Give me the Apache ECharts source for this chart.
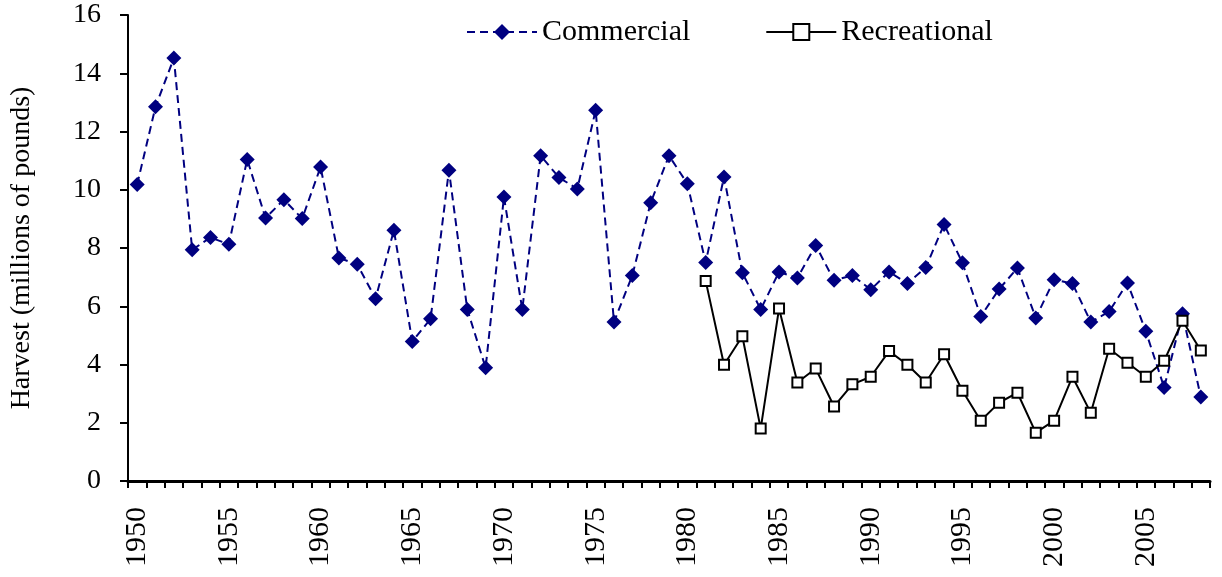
<!DOCTYPE html>
<html>
<head>
<meta charset="utf-8">
<script src="https://cdn.jsdelivr.net/npm/echarts@6/dist/echarts.min.js"></script>
<style>
html, body { margin: 0; padding: 0; background: #fff; }
#chart { width: 1222px; height: 577px; }
</style>
</head>
<body>
<div id="chart"></div>
<script>
// years on the x axis
const years = []
for (let y = 1950; y <= 2008; y++) years.push(String(y))

// commercial harvest, 1950-2008 (millions of pounds)
const commercial = [
    10.18, 12.85, 14.52, 7.94, 8.36, 8.13, 11.04, 9.03, 9.66, 9.01,
    10.78, 7.66, 7.44, 6.26, 8.61, 4.79, 5.57, 10.67, 5.89, 3.89,
    9.75, 5.89, 11.17, 10.42, 10.03, 12.73, 5.46, 7.06, 9.55, 11.17,
    10.21, 7.50, 10.44, 7.15, 5.89, 7.18, 6.97, 8.09, 6.89, 7.06,
    6.57, 7.18, 6.78, 7.33, 8.81, 7.49, 5.65, 6.59, 7.31, 5.60,
    6.91, 6.78, 5.46, 5.82, 6.80, 5.14, 3.21, 5.74, 2.88
]

// recreational harvest starts in 1981
const recreationalStart = 1981
const recreational = [
    6.87, 3.99, 4.97, 1.80, 5.92, 3.38, 3.86, 2.56, 3.32, 3.58,
    4.46, 3.99, 3.38, 4.35, 3.10, 2.07, 2.69, 3.03, 1.66, 2.07,
    3.58, 2.34, 4.54, 4.06, 3.58, 4.13, 5.50, 4.48
]

const yTicks = [0, 2, 4, 6, 8, 10, 12, 14, 16]

const FONT = '"Liberation Serif", "DejaVu Serif", serif'

const recreationalFull = years.map(y => {
    const i = Number(y) - recreationalStart
    return i >= 0 ? recreational[i] : null
})

const chart = echarts.init(document.getElementById('chart'))

const option = {
    animation: false,
    backgroundColor: '#fff',
    grid: {
        left: 127,
        right: 12,
        top: 15,
        bottom: 96
    },
    legend: {
        left: 461,
        top: 12,
        itemWidth: 70,
        itemHeight: 20,
        itemGap: 75,
        textStyle: {
            fontFamily: FONT,
            fontSize: 30,
            color: '#000'
        },
        data: ['Commercial', 'Recreational']
    },
    xAxis: {
        type: 'category',
        data: years,
        boundaryGap: true,
        axisLine: {
            lineStyle: { color: '#000', width: 3 }
        },
        axisTick: {
            show: true,
            interval: 0,
            length: 7,
            lineStyle: { color: '#000', width: 2 }
        },
        axisLabel: {
            interval: 4,
            rotate: 90,
            margin: 26,
            fontFamily: FONT,
            fontSize: 30,
            color: '#000'
        },
        splitLine: { show: false }
    },
    yAxis: {
        type: 'value',
        min: yTicks[0],
        max: yTicks[yTicks.length - 1],
        interval: 2,
        name: 'Harvest (millions of pounds)',
        nameLocation: 'middle',
        nameGap: 92,
        nameTextStyle: {
            fontFamily: FONT,
            fontSize: 28,
            color: '#000'
        },
        axisLine: {
            show: true,
            lineStyle: { color: '#000', width: 2 }
        },
        axisTick: {
            show: true,
            length: 8,
            lineStyle: { color: '#000', width: 2 }
        },
        axisLabel: {
            margin: 27,
            fontFamily: FONT,
            fontSize: 28,
            color: '#000'
        },
        splitLine: { show: false }
    },
    series: [
        {
            name: 'Commercial',
            type: 'line',
            data: commercial,
            showAllSymbol: true,
            symbol: 'diamond',
            symbolSize: 15,
            itemStyle: { color: '#000080' },
            lineStyle: {
                color: '#000080',
                width: 2,
                type: [8, 5]
            }
        },
        {
            name: 'Recreational',
            type: 'line',
            data: recreationalFull,
            showAllSymbol: true,
            symbol: 'rect',
            symbolSize: 10,
            itemStyle: {
                color: '#fff',
                borderColor: '#000',
                borderWidth: 2
            },
            lineStyle: {
                color: '#000',
                width: 2
            }
        }
    ]
}

chart.setOption(option)
</script>
</body>
</html>
